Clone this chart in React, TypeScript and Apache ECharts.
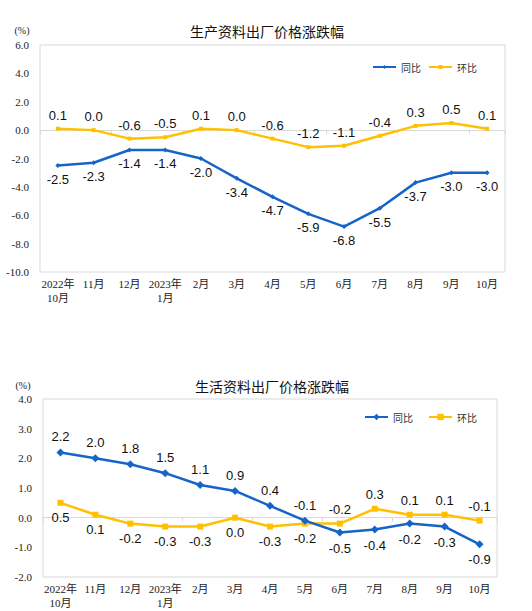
// Two line charts: producer goods / consumer goods ex-factory price change

import { useEffect, useRef } from 'react';
import * as echarts from 'echarts';

const months = [
    '2022年\n10月', '11月', '12月', '2023年\n1月', '2月', '3月', '4月',
    '5月', '6月', '7月', '8月', '9月', '10月',
];

// 生产资料
const prodYoy = [-2.5, -2.3, -1.4, -1.4, -2.0, -3.4, -4.7, -5.9, -6.8, -5.5, -3.7, -3.0, -3.0];
const prodMom = [0.1, 0.0, -0.6, -0.5, 0.1, 0.0, -0.6, -1.2, -1.1, -0.4, 0.3, 0.5, 0.1];
const prodYoyPos = Array(13).fill('bottom');
const prodMomPos = Array(13).fill('top');

// 生活资料
const consYoy = [2.2, 2.0, 1.8, 1.5, 1.1, 0.9, 0.4, -0.1, -0.5, -0.4, -0.2, -0.3, -0.9];
const consMom = [0.5, 0.1, -0.2, -0.3, -0.3, 0.0, -0.3, -0.2, -0.2, 0.3, 0.1, 0.1, -0.1];
const consYoyPos = ['top', 'top', 'top', 'top', 'top', 'top', 'top', 'top', 'bottom', 'bottom', 'bottom', 'bottom', 'bottom'];
const consMomPos = ['bottom', 'bottom', 'bottom', 'bottom', 'bottom', 'bottom', 'bottom', 'bottom', 'top', 'top', 'top', 'top', 'top'];

const BLUE = '#1764c8';
const YELLOW = '#ffc000';
const SERIF = '"Liberation Serif", "Noto Sans CJK SC", serif';
const SANS = '"Liberation Sans", Arial, sans-serif';
const CJK = '"Noto Sans CJK SC", sans-serif';

interface ChartProps {
    title: string;
    yoy: number[];
    mom: number[];
    yoyPos: string[];
    momPos: string[];
    yMin: number;
    yMax: number;
    yStep: number;
    height: number;
    grid: { left: number; right: number; top: number; bottom: number };
    titleX: number;
    titleY: number;
    unitX: number;
    unitY: number;
    legendX: number;
    legendY: number;
    legendGap: number;
    legendIcon: number;
    yoySize: number;
    momSize: number;
}

function PriceChart(p: ChartProps) {
    const chartRef = useRef<HTMLDivElement>(null);

    useEffect(() => {
        if (!chartRef.current) return;
        const chart = echarts.init(chartRef.current, null, { renderer: 'svg' });

        const makeData = (vals: number[], pos: string[]) =>
            vals.map((v, i) => ({ value: v, label: { position: pos[i] } }));

        const labelStyle = {
            show: true,
            distance: 5,
            fontSize: 13,
            fontFamily: SANS,
            color: '#111',
            formatter: (d: any) => Number(d.value).toFixed(1),
        };

        const option: echarts.EChartsOption = {
            animation: false,
            backgroundColor: '#fff',
            title: {
                text: p.title,
                left: p.titleX,
                top: p.titleY,
                textAlign: 'center',
                textStyle: { fontSize: 14, fontWeight: 'normal', color: '#111', fontFamily: CJK },
            },
            graphic: [
                {
                    type: 'text',
                    x: p.unitX,
                    y: p.unitY,
                    style: { text: '(%)', font: `10px ${SERIF}`, fill: '#222', textAlign: 'center', textVerticalAlign: 'middle' },
                },
            ],
            legend: {
                left: p.legendX,
                top: p.legendY,
                itemWidth: 23,
                itemHeight: p.legendIcon,
                itemGap: p.legendGap,
                textStyle: { fontSize: 10, color: '#333', fontFamily: CJK },
                data: ['同比', '环比'],
            },
            grid: {
                ...p.grid,
                show: true,
                borderColor: '#d9d9d9',
                borderWidth: 1,
                containLabel: false,
            },
            xAxis: [
                {
                    type: 'category',
                    data: months,
                    position: 'bottom',
                    axisLine: { show: false, onZero: false },
                    axisTick: { show: false },
                    axisLabel: {
                        interval: 0,
                        margin: 5,
                        fontSize: 11,
                        lineHeight: 14,
                        color: '#222',
                        fontFamily: SERIF,
                    },
                },
                {
                    type: 'category',
                    data: months,
                    position: 'bottom',
                    axisLine: { show: true, onZero: true, lineStyle: { color: '#d9d9d9', width: 1 } },
                    axisTick: { show: true, length: 4, lineStyle: { color: '#d9d9d9' } },
                    axisLabel: { show: false },
                },
            ],
            yAxis: {
                type: 'value',
                min: p.yMin,
                max: p.yMax,
                interval: p.yStep,
                axisLine: { show: false },
                axisTick: { show: false },
                splitLine: { show: false },
                axisLabel: {
                    margin: 11,
                    fontSize: 11,
                    color: '#222',
                    fontFamily: SERIF,
                    formatter: (v: number) => v.toFixed(1),
                },
            },
            series: [
                {
                    name: '同比',
                    type: 'line',
                    xAxisIndex: 0,
                    data: makeData(p.yoy, p.yoyPos),
                    symbol: 'diamond',
                    symbolSize: p.yoySize,
                    lineStyle: { color: BLUE, width: 2.5 },
                    itemStyle: { color: BLUE },
                    label: labelStyle,
                    z: 3,
                },
                {
                    name: '环比',
                    type: 'line',
                    xAxisIndex: 0,
                    data: makeData(p.mom, p.momPos),
                    symbol: 'rect',
                    symbolSize: p.momSize,
                    lineStyle: { color: YELLOW, width: 2.5 },
                    itemStyle: { color: YELLOW },
                    label: labelStyle,
                    z: 2,
                },
            ],
        };

        chart.setOption(option as any, { notMerge: true });

        return () => {
            chart.dispose();
        };
    }, [p]);

    return <div ref={chartRef} style={{ width: '532px', height: `${p.height}px` }} />;
}

export default function App() {
    return (
        <div style={{ position: 'fixed', left: 0, top: 0, width: 532, height: 611, background: '#fff' }}>
            <PriceChart
                title="生产资料出厂价格涨跌幅"
                yoy={prodYoy}
                mom={prodMom}
                yoyPos={prodYoyPos}
                momPos={prodMomPos}
                yMin={-10}
                yMax={6}
                yStep={2}
                height={330}
                grid={{ left: 40, right: 27, top: 45, bottom: 58 }}
                titleX={262}
                titleY={19}
                unitX={22}
                unitY={30}
                legendX={367}
                legendY={57}
                legendGap={7}
                legendIcon={5}
                yoySize={5}
                momSize={4}
            />
            <PriceChart
                title="生活资料出厂价格涨跌幅"
                yoy={consYoy}
                mom={consMom}
                yoyPos={consYoyPos}
                momPos={consMomPos}
                yMin={-2}
                yMax={4}
                yStep={1}
                height={281}
                grid={{ left: 43, right: 35, top: 69, bottom: 34 }}
                titleX={267}
                titleY={44}
                unitX={23}
                unitY={55}
                legendX={359}
                legendY={77}
                legendGap={15}
                legendIcon={8}
                yoySize={8}
                momSize={6}
            />
        </div>
    );
}
